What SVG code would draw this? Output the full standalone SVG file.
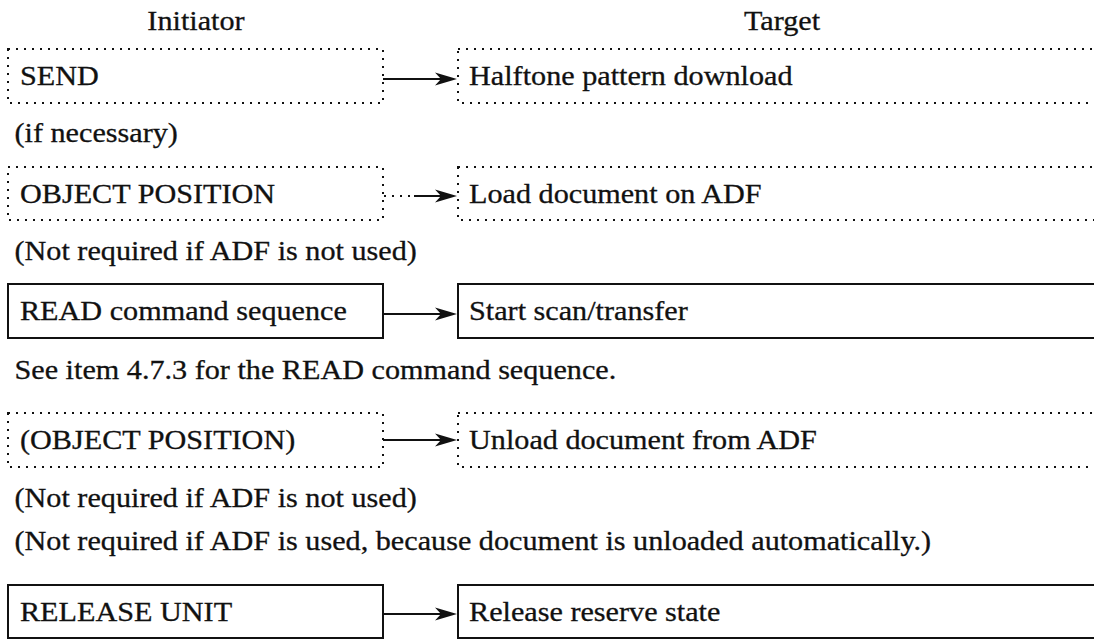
<svg xmlns="http://www.w3.org/2000/svg" width="1094" height="639" viewBox="0 0 1094 639">
<style>
text{font-family:"Liberation Serif","Times New Roman",serif;font-size:28px;fill:#111;stroke:#111;stroke-width:0.3}
.dot{fill:none;stroke:#111;stroke-width:2;stroke-dasharray:2 6}
.sol{fill:none;stroke:#111;stroke-width:2}
.ln{fill:none;stroke:#111;stroke-width:2}
.ldot{fill:none;stroke:#111;stroke-width:2;stroke-dasharray:2 6}
</style>
<defs>
<marker id="ah" viewBox="-24 -8 32 16" refX="-5" refY="0" markerWidth="32" markerHeight="16" orient="auto" markerUnits="userSpaceOnUse">
<path d="M-22,-6.5 L0,0 L-22,6.5 L-16,0 Z" fill="#111"/>
</marker>
</defs>
<rect width="1094" height="639" fill="#fff"/>
<text transform="scale(1.078 1)" x="181.8" y="30" text-anchor="middle">Initiator</text>
<text transform="scale(1.078 1)" x="725.4" y="30" text-anchor="middle">Target</text>

<g id="send"><rect class="dot" x="8" y="49" width="375" height="54"/><text transform="scale(1.078 1)" x="18.55" y="85">SEND</text></g>
<g id="halftone"><rect class="dot" x="458" y="49" width="700" height="54"/><text transform="scale(1.078 1)" x="435.1" y="85">Halftone pattern download</text></g>
<text transform="scale(1.078 1)" x="13.45" y="142">(if necessary)</text>

<g id="objpos"><rect class="dot" x="8" y="167" width="375" height="53"/><text transform="scale(1.078 1)" x="18.55" y="203">OBJECT POSITION</text></g>
<g id="load"><rect class="dot" x="458" y="167" width="700" height="53"/><text transform="scale(1.078 1)" x="435.1" y="203">Load document on ADF</text></g>
<text transform="scale(1.078 1)" x="13.45" y="260">(Not required if ADF is not used)</text>

<g id="read"><rect class="sol" x="8" y="284" width="375" height="54"/><text transform="scale(1.078 1)" x="18.55" y="320">READ command sequence</text></g>
<g id="scan"><rect class="sol" x="458" y="284" width="700" height="54"/><text transform="scale(1.078 1)" x="435.1" y="320">Start scan/transfer</text></g>
<text transform="scale(1.078 1)" x="13.45" y="379">See item 4.7.3 for the READ command sequence.</text>

<g id="objpos2"><rect class="dot" x="8" y="413" width="375" height="54"/><text transform="scale(1.078 1)" x="18.55" y="449">(OBJECT POSITION)</text></g>
<g id="unload"><rect class="dot" x="458" y="413" width="700" height="54"/><text transform="scale(1.078 1)" x="435.1" y="449">Unload document from ADF</text></g>
<text transform="scale(1.078 1)" x="13.45" y="507">(Not required if ADF is not used)</text>
<text transform="scale(1.078 1)" x="13.45" y="550">(Not required if ADF is used, because document is unloaded automatically.)</text>

<g id="release"><rect class="sol" x="8" y="585" width="375" height="53"/><text transform="scale(1.078 1)" x="18.55" y="621">RELEASE UNIT</text></g>
<g id="reserve"><rect class="sol" x="458" y="585" width="700" height="53"/><text transform="scale(1.078 1)" x="435.1" y="621">Release reserve state</text></g>

<g id="connectors">
<path class="ln" d="M383,79 H452" marker-end="url(#ah)"/>
<path class="ldot" d="M384,196 H410"/>
<path class="ln" d="M414,196 H452" marker-end="url(#ah)"/>
<path class="ln" d="M383,314 H452" marker-end="url(#ah)"/>
<path class="ln" d="M383,440 H452" marker-end="url(#ah)"/>
<path class="ln" d="M383,614 H452" marker-end="url(#ah)"/>
</g>
</svg>
